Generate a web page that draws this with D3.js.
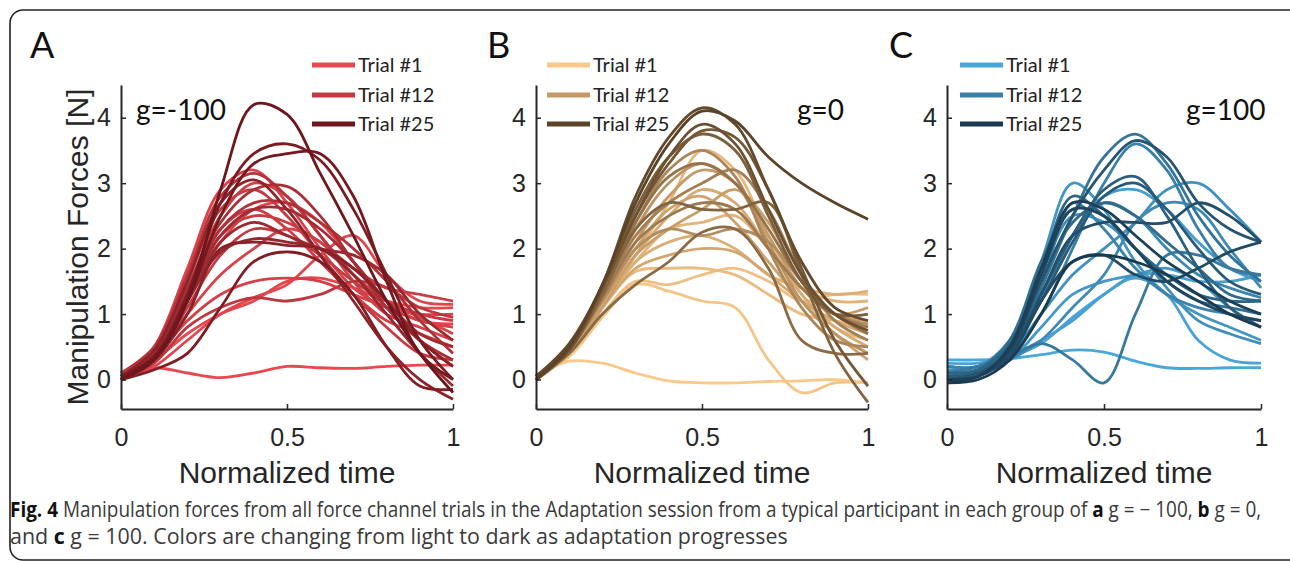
<!DOCTYPE html>
<html>
<head>
<meta charset="utf-8">
<script src="https://cdn.jsdelivr.net/npm/d3@7"></script>
<style>
  body { margin: 0; background: #fff; }
  svg { display: block; }
</style>
</head>
<body>
<div id="chart"></div>
<script>
// Normalized time samples shared by every trial
const timePoints = [0, 0.1, 0.2, 0.3, 0.4, 0.5, 0.6, 0.7, 0.8, 0.9, 1];

// Manipulation forces [N], trial 1 (first row) to trial 25 (last row)
const forcesA = [
  [0.05, 0.18, 0.1, 0.03, 0.1, 0.2, 0.18, 0.17, 0.2, 0.22, 0.22],
  [0.1, 0.3, 0.7, 1.0, 1.2, 1.5, 1.55, 1.4, 1.2, 1.1, 1.1],
  [0.0, 0.2, 0.6, 1.0, 1.25, 1.45, 1.9, 2.2, 1.6, 1.2, 1.15],
  [0.1, 0.4, 1.2, 2.1, 2.6, 2.7, 2.4, 1.8, 1.2, 0.9, 0.85],
  [0.0, 0.5, 1.7, 2.9, 3.2, 2.7, 2.0, 1.4, 1.1, 1.0, 1.0],
  [0.05, 0.3, 1.0, 1.6, 2.0, 2.3, 2.1, 1.6, 1.2, 0.95, 0.7],
  [0.1, 0.35, 0.9, 1.3, 1.5, 1.55, 1.5, 1.3, 1.1, 0.9, 0.8],
  [0.0, 0.4, 1.4, 2.5, 3.0, 2.8, 2.2, 1.5, 1.0, 0.8, 0.6],
  [0.1, 0.4, 1.3, 2.3, 2.6, 2.3, 1.8, 1.3, 0.9, 0.7, 0.5],
  [0.0, 0.35, 1.2, 2.2, 2.5, 2.4, 2.1, 1.7, 1.4, 1.3, 1.2],
  [0.05, 0.45, 1.5, 2.6, 2.9, 2.5, 1.9, 1.3, 0.8, 0.4, 0.3],
  [0.0, 0.3, 1.1, 1.9, 2.3, 2.2, 1.9, 1.5, 1.2, 1.0, 0.9],
  [0.0, 0.25, 0.8, 1.1, 1.25, 1.2, 1.3, 1.5, 1.4, 1.1, 0.95],
  [0.1, 0.5, 1.6, 2.8, 3.15, 2.8, 2.2, 1.6, 1.1, 0.6, 0.2],
  [0.0, 0.4, 1.3, 2.3, 2.7, 2.7, 2.4, 2.0, 1.5, 0.9, 0.4],
  [0.05, 0.45, 1.4, 2.4, 2.9, 2.95, 2.5, 1.8, 1.1, 0.6, 0.3],
  [0.0, 0.4, 1.3, 2.2, 2.6, 2.6, 2.3, 1.8, 1.2, 0.7, 0.5],
  [0.05, 0.35, 1.2, 2.1, 2.4, 2.2, 2.0, 1.9, 1.6, 1.0, 0.6],
  [0.0, 0.4, 1.2, 1.95, 2.15, 2.1, 2.0, 1.6, 1.0, 0.4, -0.1],
  [0.05, 0.45, 1.5, 2.7, 3.05, 2.6, 1.9, 1.2, 0.5, 0.0, -0.3],
  [0.0, 0.3, 1.0, 2.0, 2.1, 2.05, 2.0, 1.7, 1.2, 0.6, 0.2],
  [0.0, 0.15, 0.4, 1.1, 1.8, 1.95, 1.8, 1.3, 0.5, -0.1, -0.15],
  [0.05, 0.35, 1.3, 2.7, 3.45, 3.6, 3.35, 2.6, 1.6, 0.6, 0.0],
  [0.0, 0.35, 1.2, 2.5, 3.3, 3.45, 3.45, 2.8, 1.5, 0.4, 0.0],
  [0.0, 0.3, 1.2, 2.9, 4.2, 4.05, 3.15, 2.2, 1.2, 0.4, -0.2]
];

const forcesB = [
  [0.05, 0.28, 0.25, 0.1, -0.02, -0.05, -0.05, -0.03, -0.02, 0.0, -0.05],
  [0.05, 0.35, 0.95, 1.45, 1.35, 1.2, 1.1, 0.3, -0.2, -0.05, -0.05],
  [0.0, 0.4, 1.0, 1.5, 1.45, 1.6, 1.7, 1.5, 1.2, 1.3, 1.3],
  [0.05, 0.45, 1.1, 1.65, 1.7, 1.7, 1.6, 1.3, 1.0, 0.9, 0.8],
  [0.0, 0.4, 1.1, 1.9, 2.7, 3.5, 3.2, 2.2, 1.3, 0.8, 0.6],
  [0.05, 0.45, 1.15, 1.8, 2.3, 2.4, 2.5, 2.0, 1.4, 1.2, 1.2],
  [0.0, 0.4, 1.1, 1.8, 2.1, 2.2, 2.0, 1.6, 1.4, 1.3, 1.35],
  [0.05, 0.45, 1.2, 1.9, 2.5, 2.9, 2.7, 2.0, 1.3, 0.8, 0.5],
  [0.0, 0.4, 1.1, 1.7, 1.9, 2.0, 1.95, 1.6, 1.2, 0.9, 0.7],
  [0.05, 0.45, 1.2, 2.0, 2.6, 2.8, 2.4, 1.8, 1.2, 0.7, 0.3],
  [0.0, 0.4, 1.1, 1.9, 2.3, 2.6, 2.9, 2.4, 1.5, 1.0, 0.9],
  [0.05, 0.45, 1.25, 2.1, 2.8, 3.2, 3.0, 2.2, 1.4, 1.0, 1.1],
  [0.0, 0.45, 1.3, 2.3, 3.0, 3.3, 3.0, 2.1, 1.2, 0.7, 0.4],
  [0.05, 0.45, 1.2, 2.0, 2.3, 2.2, 2.3, 2.1, 1.5, 1.0, 0.85],
  [0.0, 0.5, 1.35, 2.4, 3.2, 3.5, 3.1, 2.0, 1.1, 0.6, 0.5],
  [0.05, 0.45, 1.3, 2.2, 2.7, 3.0, 3.2, 2.6, 1.6, 0.9, 0.6],
  [0.0, 0.45, 1.25, 2.1, 2.5, 2.7, 2.6, 2.0, 1.4, 1.0, 0.8],
  [0.0, 0.5, 1.35, 2.4, 3.1, 3.3, 3.0, 2.3, 1.5, 1.0, 0.7],
  [0.05, 0.4, 1.0, 1.45, 1.8, 2.25, 2.3, 1.7, 0.6, 0.4, 0.4],
  [0.0, 0.45, 1.3, 2.3, 2.7, 2.6, 2.6, 2.7, 1.6, 0.4, -0.35],
  [0.05, 0.5, 1.4, 2.6, 3.4, 3.75, 3.5, 2.5, 1.5, 1.0, 1.0],
  [0.0, 0.5, 1.4, 2.5, 3.3, 3.8, 3.7, 2.9, 1.7, 0.6, -0.1],
  [0.0, 0.45, 1.4, 2.5, 3.4, 3.9, 3.6, 2.6, 1.6, 1.0, 0.75],
  [0.05, 0.55, 1.45, 2.8, 3.7, 4.15, 3.9, 2.9, 1.8, 1.1, 0.9],
  [0.0, 0.5, 1.45, 2.7, 3.6, 4.1, 3.95, 3.4, 3.0, 2.7, 2.45]
];

const forcesC = [
  [0.3, 0.3, 0.32, 0.38, 0.45, 0.42, 0.28, 0.18, 0.17, 0.18, 0.18],
  [0.25, 0.25, 0.35, 0.55, 0.95, 1.3, 1.55, 1.3, 0.6, 0.3, 0.25],
  [0.1, 0.15, 0.35, 0.6, 0.9, 1.3, 1.6, 1.6, 1.5, 1.5, 1.6],
  [0.2, 0.2, 0.5, 1.2, 2.2, 2.8, 2.9, 2.6, 2.1, 1.7, 1.5],
  [0.0, 0.1, 0.3, 0.8, 1.3, 1.5, 1.6, 1.7, 1.5, 1.1, 0.8],
  [0.2, 0.2, 0.6, 1.8, 3.0, 2.6, 1.8, 1.3, 1.0, 0.8, 0.6],
  [0.1, 0.15, 0.4, 1.0, 1.6, 2.0, 2.4, 2.9, 3.0, 2.6, 2.1],
  [0.15, 0.2, 0.6, 1.6, 2.5, 2.4, 2.0, 1.4, 0.9, 0.7, 0.55],
  [0.05, 0.1, 0.3, 0.6, 1.1, 1.6, 2.4, 2.7, 2.6, 2.0, 1.4],
  [0.1, 0.15, 0.5, 1.3, 2.2, 2.7, 2.5, 2.0, 1.6, 1.4, 1.25],
  [0.2, 0.2, 0.5, 1.4, 2.7, 2.3, 1.7, 1.3, 1.1, 1.0, 0.9],
  [0.0, 0.1, 0.35, 1.0, 2.0, 3.0, 3.6, 3.2, 2.3, 1.7, 1.6],
  [0.1, 0.2, 0.35, 0.55, 0.3, -0.05, 1.0, 1.9, 1.9, 1.7, 1.6],
  [0.05, 0.1, 0.45, 1.4, 2.5, 3.4, 3.75, 3.3, 2.5, 1.9, 1.5],
  [0.0, 0.15, 0.6, 1.8, 2.6, 2.5, 2.0, 1.5, 1.2, 1.1, 1.0],
  [0.05, 0.15, 0.5, 1.5, 2.4, 2.7, 2.5, 2.1, 1.7, 1.3, 1.2],
  [0.1, 0.15, 0.55, 1.7, 2.8, 2.5, 2.0, 1.6, 1.3, 1.2, 1.2],
  [0.0, 0.1, 0.4, 1.3, 2.2, 2.9, 3.1, 2.5, 1.7, 1.1, 0.8],
  [0.05, 0.1, 0.4, 1.2, 2.1, 2.8, 3.0, 2.6, 2.0, 1.5, 1.3],
  [0.0, 0.1, 0.45, 1.5, 2.5, 3.2, 3.65, 3.4, 2.7, 2.3, 2.1],
  [0.0, 0.05, 0.4, 1.3, 2.2, 2.4, 2.4, 2.4, 2.7, 2.5, 2.1],
  [0.0, 0.05, 0.35, 1.2, 1.8, 1.9, 1.6, 1.5, 1.7, 1.95, 2.1],
  [-0.05, 0.05, 0.45, 1.6, 2.6, 2.5, 2.0, 1.5, 1.2, 1.0, 0.9],
  [0.0, 0.05, 0.5, 1.7, 2.7, 2.6, 2.2, 1.8, 1.5, 1.2, 1.0],
  [-0.05, 0.0, 0.3, 1.0, 1.8, 1.9, 1.8, 1.6, 1.3, 1.0, 0.8]
];

const panelLetters = ["A", "B", "C"];
const gainLabels = ["g=-100", "g=0", "g=100"];
const legendTrials = ["Trial #1", "Trial #12", "Trial #25"];
const legendIndex = [0, 11, 24];
const xTicks = [0, 0.5, 1];
const xTickLabels = ["0", "0.5", "1"];
const yTicks = [0, 1, 2, 3, 4];
const yTickLabels = ["0", "1", "2", "3", "4"];

// light -> mid -> dark per group
const colorsA = ["#ea4850", "#c23a42", "#6e161c"];
const colorsB = ["#f8c98a", "#c49a68", "#5b4327"];
const colorsC = ["#4aa7da", "#3a7fa6", "#1a3a50"];

const W = 1290, H = 561;
const axisFont = "'Liberation Sans', Arial, sans-serif";
const labelFont = "Lato, 'Open Sans', sans-serif";
const ink = "#262626";

const svg = d3.select("#chart")
  .append("svg")
  .attr("width", W)
  .attr("height", H);

// rounded frame (runs off the right edge like the source)
svg.append("rect")
  .attr("x", 10).attr("y", 10)
  .attr("width", 1292).attr("height", 550)
  .attr("rx", 13)
  .attr("fill", "none")
  .attr("stroke", "#222")
  .attr("stroke-width", 1.6);

const panels = [
  { letter: panelLetters[0], gain: gainLabels[0], data: forcesA, colors: colorsA,
    x0: 121, x1: 453, letterX: 30, legendX: 312, gainX: 136 },
  { letter: panelLetters[1], gain: gainLabels[1], data: forcesB, colors: colorsB,
    x0: 536, x1: 868, letterX: 487, legendX: 547, gainX: 797 },
  { letter: panelLetters[2], gain: gainLabels[2], data: forcesC, colors: colorsC,
    x0: 947, x1: 1261, letterX: 889, legendX: 960, gainX: 1186 }
];

const y = d3.scaleLinear().domain([-0.45, 4.5]).range([409, 85]);

panels.forEach((p, pi) => {
  const x = d3.scaleLinear().domain([0, 1]).range([p.x0, p.x1]);
  const lo = d3.interpolateRgb(p.colors[0], p.colors[1]);
  const hi = d3.interpolateRgb(p.colors[1], p.colors[2]);
  const color = i => i <= 11 ? lo(i / 11) : hi((i - 11) / 13);

  const line = d3.line()
    .x((d, i) => x(timePoints[i]))
    .y(d => y(d))
    .curve(d3.curveCatmullRom.alpha(0.5));

  const g = svg.append("g");

  // trials, light first so dark ones sit on top
  g.selectAll("path.trial")
    .data(p.data)
    .join("path")
    .attr("class", "trial")
    .attr("d", line)
    .attr("fill", "none")
    .attr("stroke", (d, i) => color(i))
    .attr("stroke-width", 2.8)
    .attr("stroke-linejoin", "round");

  // axes (matlab style: inward ticks, box off)
  const yAxis = g.append("g")
    .attr("transform", `translate(${p.x0},0)`)
    .call(d3.axisLeft(y)
      .tickValues(yTicks)
      .tickFormat((d, i) => yTickLabels[i])
      .tickSize(-5)
      .tickSizeOuter(0)
      .tickPadding(10));

  const xAxis = g.append("g")
    .attr("transform", `translate(0,409)`)
    .call(d3.axisBottom(x)
      .tickValues(xTicks)
      .tickFormat((d, i) => xTickLabels[i])
      .tickSize(-5)
      .tickSizeOuter(0)
      .tickPadding(19));

  [yAxis, xAxis].forEach(ax => {
    ax.select(".domain").attr("stroke", ink).attr("stroke-width", 2);
    ax.selectAll(".tick line").attr("stroke", ink).attr("stroke-width", 1.5);
    ax.selectAll(".tick text")
      .attr("fill", ink)
      .style("font-family", axisFont)
      .style("font-size", "25px");
  });

  g.append("text")
    .attr("x", (p.x0 + p.x1) / 2)
    .attr("y", 483)
    .attr("text-anchor", "middle")
    .attr("fill", ink)
    .style("font-family", axisFont)
    .style("font-size", "30px")
    .text("Normalized time");

  if (pi === 0) {
    g.append("text")
      .attr("transform", "translate(88,247) rotate(-90)")
      .attr("text-anchor", "middle")
      .attr("fill", ink)
      .style("font-family", axisFont)
      .style("font-size", "30px")
      .text("Manipulation Forces [N]");
  }

  // panel letter
  g.append("text")
    .attr("x", p.letterX)
    .attr("y", 58)
    .attr("fill", "#111")
    .style("font-family", labelFont)
    .style("font-size", "36px")
    .text(p.letter);

  // gain label
  g.append("text")
    .attr("x", p.gainX)
    .attr("y", 120)
    .attr("fill", "#111")
    .style("font-family", labelFont)
    .style("font-size", "28px")
    .text(p.gain);

  // legend
  const legendY = [65, 95, 124];
  legendTrials.forEach((label, k) => {
    g.append("line")
      .attr("x1", p.legendX).attr("x2", p.legendX + 43)
      .attr("y1", legendY[k]).attr("y2", legendY[k])
      .attr("stroke", color(legendIndex[k]))
      .attr("stroke-width", 5);
    g.append("text")
      .attr("x", p.legendX + 46)
      .attr("y", legendY[k] + 7)
      .attr("fill", "#222")
      .style("font-family", labelFont)
      .style("font-size", "20px")
      .text(label);
  });
});

// caption: squeeze each line horizontally to the width of the condensed original
const capFont = "'Open Sans', 'Noto Sans', sans-serif";
function captionLine(yPos, width, parts) {
  const t = svg.append("text")
    .attr("fill", "#3a3a3a")
    .style("font-family", capFont)
    .style("font-size", "21px");
  parts.forEach(([txt, bold]) => {
    const s = t.append("tspan").text(txt);
    if (bold) s.attr("font-weight", "bold").attr("fill", "#111");
  });
  const natural = t.node().getComputedTextLength();
  t.attr("transform", `translate(10,${yPos}) scale(${width / natural},1)`);
}

captionLine(517, 1252, [
  ["Fig. 4", true],
  [" Manipulation forces from all force channel trials in the Adaptation session from a typical participant in each group of ", false],
  ["a", true],
  [" g = \u2212 100, ", false],
  ["b", true],
  [" g = 0,", false]
]);
captionLine(544, 778, [
  ["and ", false],
  ["c", true],
  [" g = 100. Colors are changing from light to dark as adaptation progresses", false]
]);
</script>
</body>
</html>
